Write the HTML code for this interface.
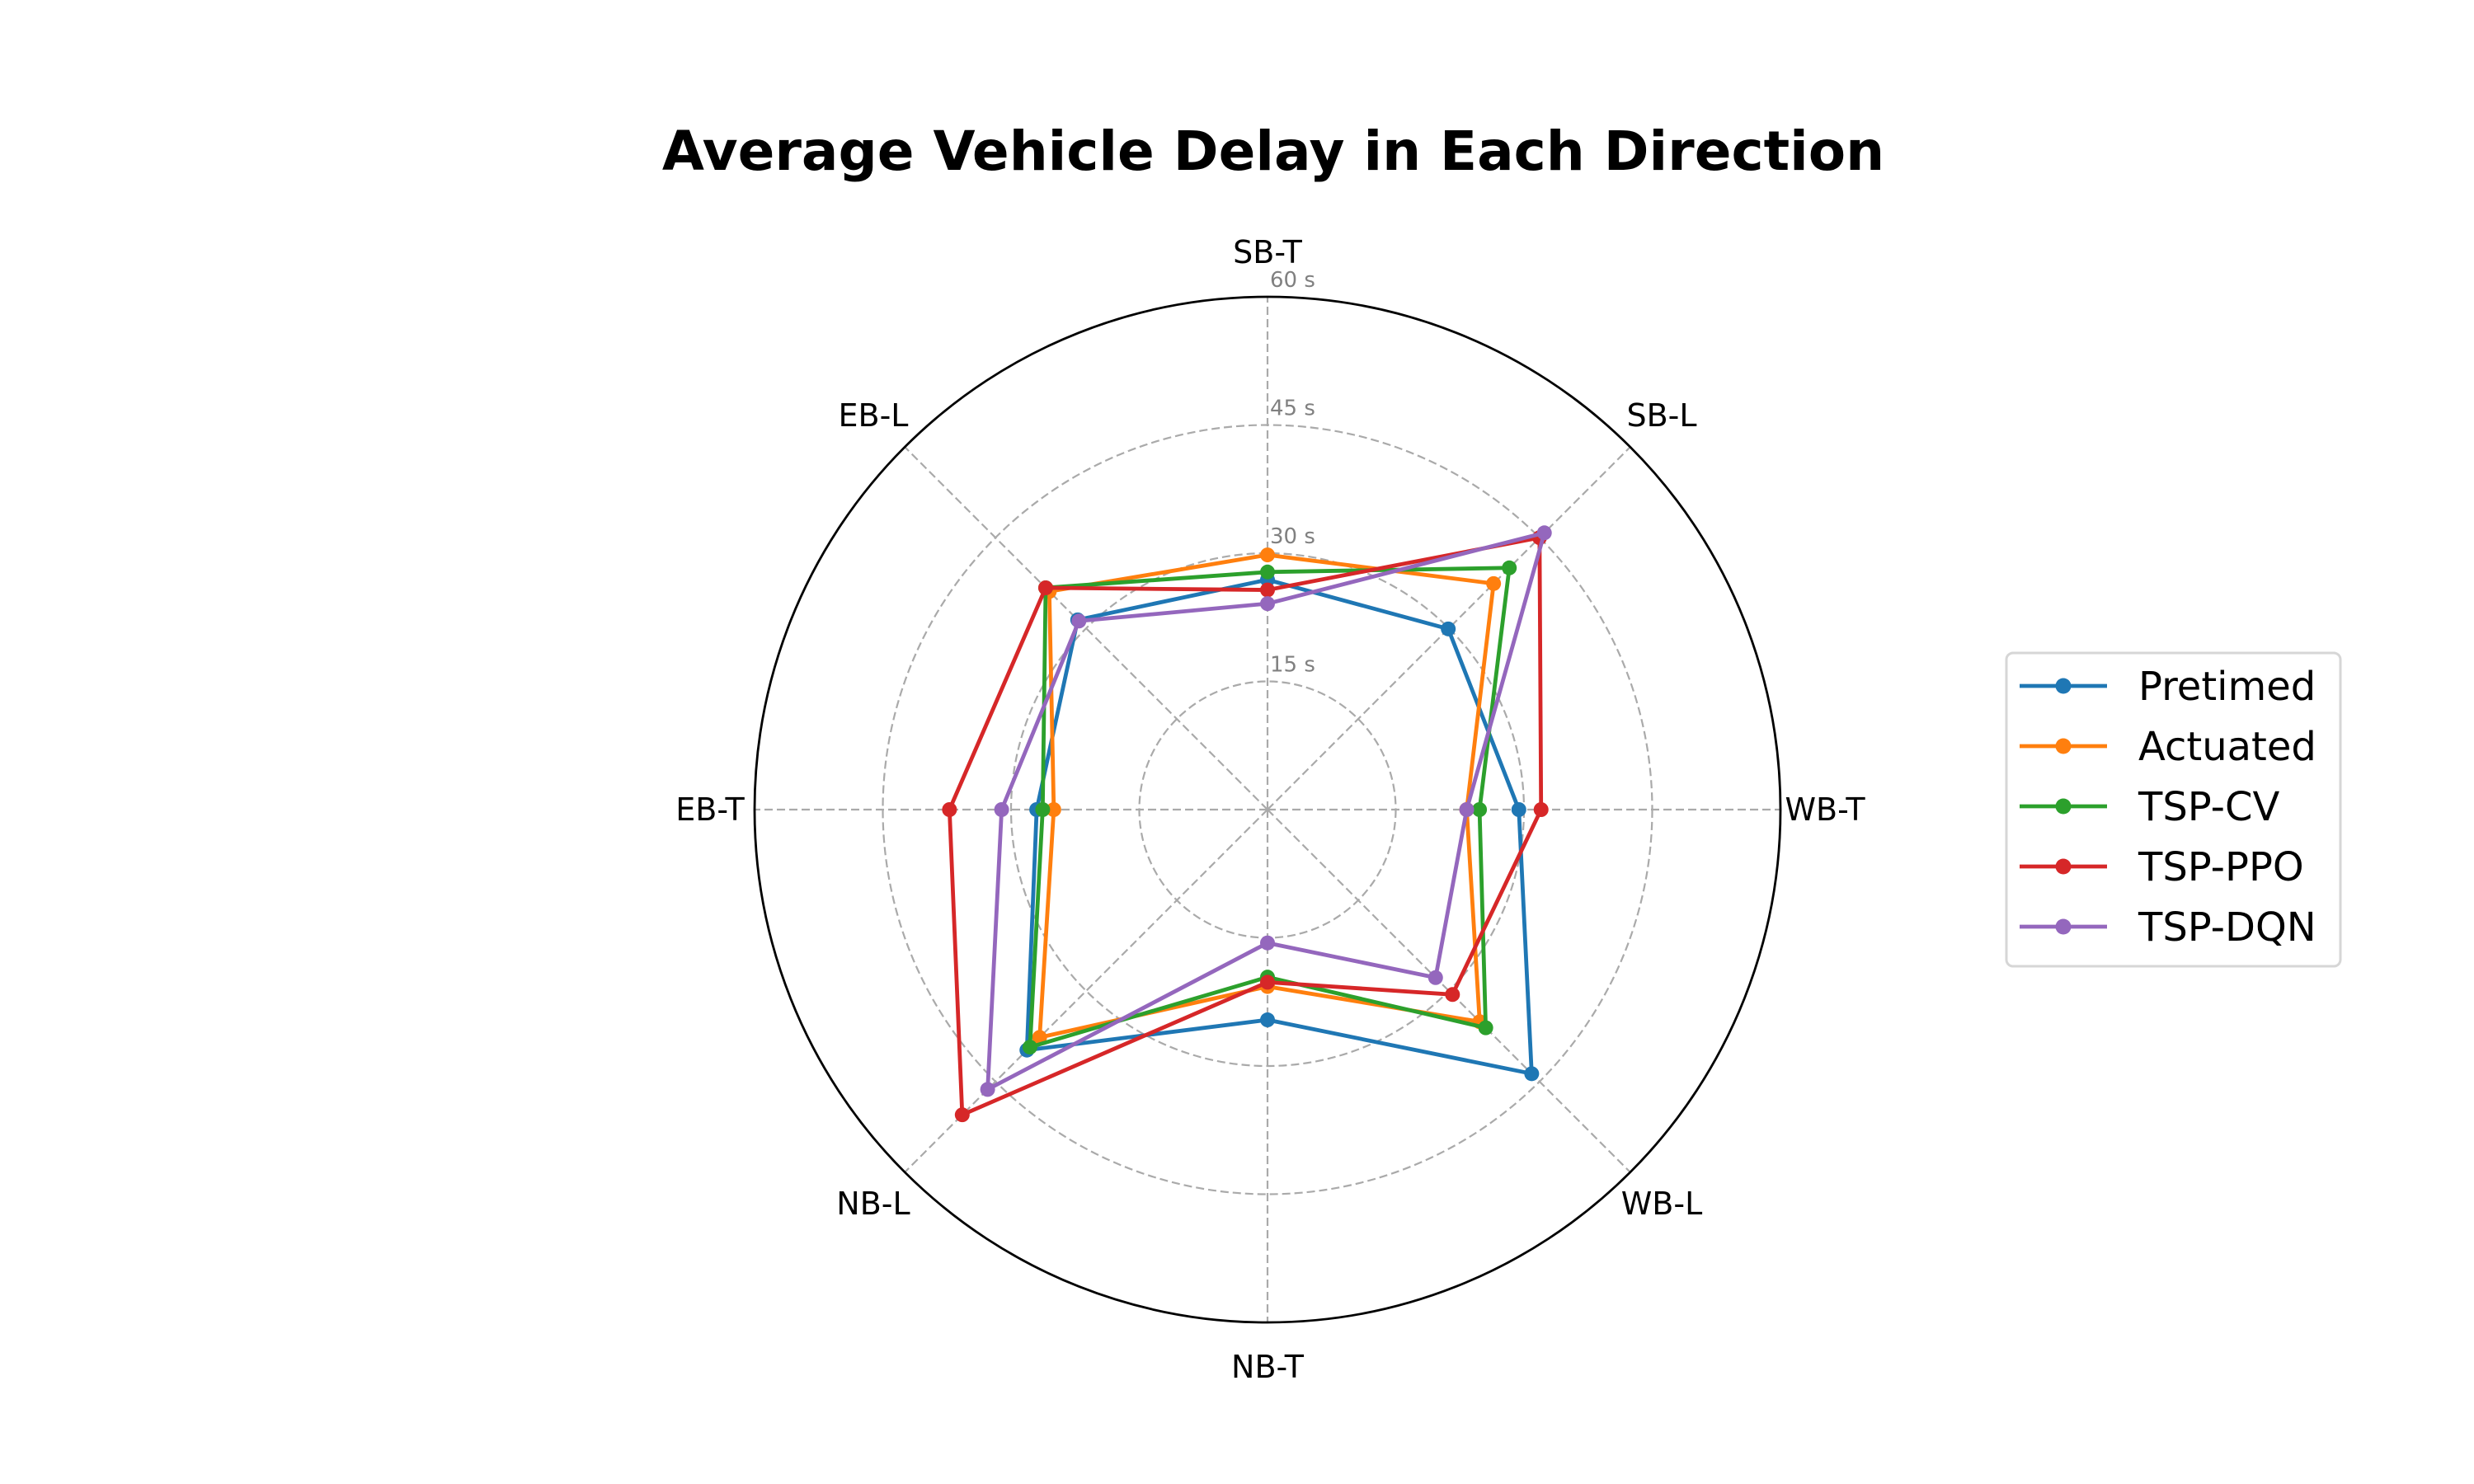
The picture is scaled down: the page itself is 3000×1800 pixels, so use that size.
<!DOCTYPE html>
<html><head><meta charset="utf-8"><style>
html,body{margin:0;padding:0;background:#fff}
svg{display:block;font-family:"DejaVu Sans","Liberation Sans",sans-serif}
</style></head><body>
<svg id="chart" width="3000" height="1800" viewBox="0 0 3000 1800">
<text x="1544" y="206" text-anchor="middle" font-size="66" font-weight="bold">Average Vehicle Delay in Each Direction</text>
<g id="grid"></g>
<g id="series"></g>
<g id="legend"></g>
</svg>
<script>
const categories = ["SB-T","SB-L","WB-T","WB-L","NB-T","NB-L","EB-T","EB-L"];
const seriesNames = ["Pretimed","Actuated","TSP-CV","TSP-PPO","TSP-DQN"];
const pretimed = [26.9,29.9,29.4,43.7,24.6,39.8,27.0,31.4];
const actuated = [29.8,37.4,23.3,35.1,20.7,37.7,25.0,36.1];
const tspCV = [27.8,40.0,24.8,36.1,19.6,39.3,26.3,36.7];
const tspPPO = [25.7,45.0,32.0,30.6,20.2,50.5,37.2,36.7];
const tspDQN = [24.1,45.8,23.3,27.8,15.6,46.3,31.1,31.2];
const rTicks = [15,30,45,60];
const rMax = 60;
const colors = ["#1f77b4","#ff7f0e","#2ca02c","#d62728","#9467bd"];
const allSeries = [pretimed,actuated,tspCV,tspPPO,tspDQN];

const NS="http://www.w3.org/2000/svg";
const cx=1537, cy=982, R=622;
function mk(tag,attrs,parent){const e=document.createElementNS(NS,tag);for(const k in attrs)e.setAttribute(k,attrs[k]);parent.appendChild(e);return e;}
function ang(i){return Math.PI/2 - i*2*Math.PI/categories.length;}
function rScale(v){return v/rMax*R;}
function pt(i,v){const a=ang(i),r=rScale(v);return [cx+r*Math.cos(a), cy-r*Math.sin(a)];}

const grid=document.getElementById('grid');
categories.forEach((c,i)=>{
  const p=pt(i,rMax);
  const l=mk('line',{x1:cx,y1:cy,x2:p[0],y2:p[1],stroke:'#aaaaaa','stroke-width':2.2,'stroke-dasharray':'10,5'},grid);
  
  
  const q=pt(i,rMax*676/622);
  const t=mk('text',{x:q[0],y:q[1]+13,'text-anchor':'middle','font-size':38},grid);
  t.textContent=c;
  
  
});
rTicks.forEach(v=>{
  const r=rScale(v);
  const c=mk('circle',{cx:cx,cy:cy,r:r,fill:'none',stroke:v===rMax?'#000':'#aaaaaa','stroke-width':v===rMax?2.8:2.2,'stroke-dasharray':v===rMax?'none':'10,5'},grid);
  
  
  const t=mk('text',{x:cx+3,y:cy-r-12,'font-size':26,fill:'#808080'},grid);
  t.textContent=v+' s';
  
  
});

const sg=document.getElementById('series');
allSeries.forEach((vals,s)=>{
  const g=mk('g',{},sg);
  
  
  const pts=vals.map((v,i)=>pt(i,v));
  const poly=mk('polygon',{points:pts.map(p=>p.join(',')).join(' '),fill:'none',stroke:colors[s],'stroke-width':4.8,'stroke-linejoin':'round'},g);
  
  
  pts.forEach((p,i)=>{
    const m=mk('circle',{cx:p[0],cy:p[1],r:9,fill:colors[s]},g);
    
    
  });
});

const lg=document.getElementById('legend');
const box=mk('rect',{x:2433,y:792,width:405,height:380,rx:8,fill:'#fff',stroke:'#d6d6d6','stroke-width':3},lg);


seriesNames.forEach((n,s)=>{
  const y=832+s*73;
  const g=mk('g',{},lg);
  
  
  mk('line',{x1:2449,y1:y,x2:2555,y2:y,stroke:colors[s],'stroke-width':4.8},g);
  mk('circle',{cx:2502,cy:y,r:9.5,fill:colors[s]},g);
  const t=mk('text',{x:2593,y:y+17,'font-size':48},g);
  t.textContent=n;
});
</script>
</body></html>
